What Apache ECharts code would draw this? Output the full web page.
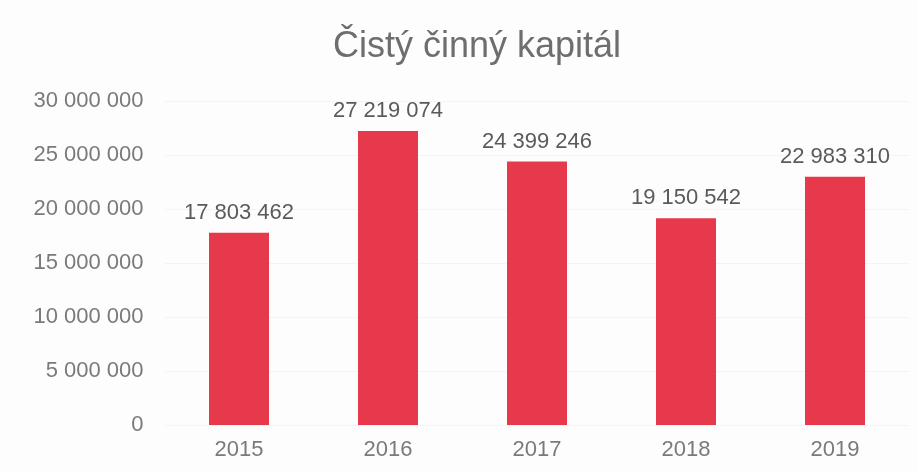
<!DOCTYPE html>
<html>
<head>
<meta charset="utf-8">
<script src="https://cdn.jsdelivr.net/npm/echarts@6/dist/echarts.min.js"></script>
<style>
  html, body { margin: 0; padding: 0; background: #fdfdfd; }
  #main { width: 917px; height: 473px; }
</style>
</head>
<body>
<div id="main"></div>
<script>
var years = ['2015', '2016', '2017', '2018', '2019'];
var values = [17803462, 27219074, 24399246, 19150542, 22983310];

function spaced(v) {
    return String(v).replace(/\B(?=(\d{3})+(?!\d))/g, ' ');
}

var myChart = echarts.init(document.getElementById('main'));

myChart.setOption({
    backgroundColor: '#fdfdfd',
    textStyle: { fontFamily: 'Liberation Sans, Arial, sans-serif' },
    title: {
        text: 'Čistý činný kapitál',
        left: 333,
        top: 29,
        padding: 0,
        textStyle: { fontSize: 36, fontWeight: 'normal', color: '#6e6e6e' }
    },
    grid: { left: 164.5, right: 7.5, top: 101, bottom: 48 },
    xAxis: {
        type: 'category',
        data: years,
        axisLine: { show: false },
        axisTick: { show: false },
        axisLabel: { fontSize: 22, color: '#7a7a7a', margin: 14 }
    },
    yAxis: {
        type: 'value',
        min: 0,
        max: 30000000,
        interval: 5000000,
        axisLine: { show: false },
        axisTick: { show: false },
        splitLine: { lineStyle: { color: '#f4f4f4' } },
        axisLabel: {
            fontSize: 22, color: '#7a7a7a', margin: 21,
            formatter: function (v) { return spaced(v); }
        }
    },
    series: [{
        type: 'bar',
        data: values,
        barWidth: 60,
        itemStyle: { color: '#e6394b' },
        label: {
            show: true,
            position: 'top',
            distance: 9,
            fontSize: 22,
            color: '#5a5a5a',
            formatter: function (p) { return spaced(p.value); }
        }
    }]
});
</script>
</body>
</html>
